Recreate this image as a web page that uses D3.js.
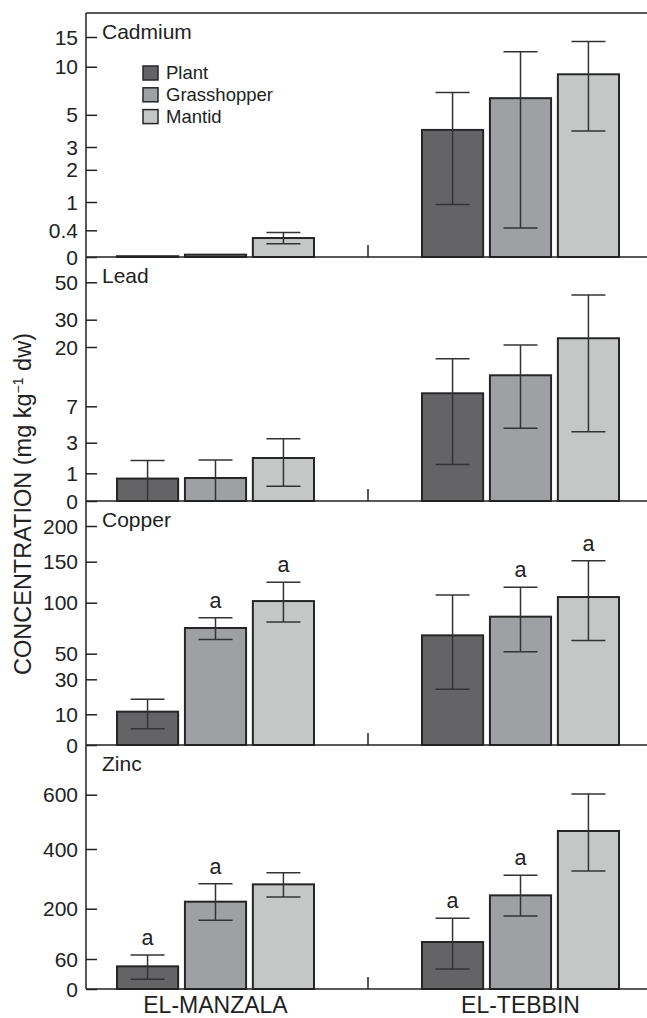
<!DOCTYPE html>
<html>
<head>
<meta charset="utf-8">
<script src="https://cdn.jsdelivr.net/npm/d3@7"></script>
<style>
  body { margin: 0; background: #fff; }
  text { font-family: "Liberation Sans", Arial, sans-serif; fill: #222; }
</style>
</head>
<body>
<div id="chart"></div>
<script>
const sites = ['EL-MANZALA', 'EL-TEBBIN'];
const organisms = ['Plant', 'Grasshopper', 'Mantid'];
const metals = ['Cadmium', 'Lead', 'Copper', 'Zinc'];

const cadmiumMean = [[0.01, 0.03, 0.27], [3.96, 6.4, 9.0]];
const cadmiumLow = [[null, null, 0.18], [0.94, 0.44, 3.9]];
const cadmiumHigh = [[null, null, 0.36], [6.94, 12.3, 14.1]];
const cadmiumLetters = [['', '', ''], ['', '', '']];

const leadMean = [[0.81, 0.83, 2.0], [9.85, 13.8, 23.2]];
const leadLow = [[0, 0, 0.53], [1.57, 4.58, 4.21]];
const leadHigh = [[1.83, 1.87, 3.44], [17.4, 20.7, 43.2]];
const leadLetters = [['', '', ''], ['', '', '']];

const copperMean = [[11.5, 75.2, 102], [68, 86.3, 106.9]];
const copperLow = [[5.3, 64, 81], [24.3, 52, 63]];
const copperHigh = [[18.6, 85.3, 124.8], [109.4, 118.7, 151.4]];
const copperLetters = [['', 'a', 'a'], ['', 'a', 'a']];

const zincMean = [[45.3, 223.5, 281.6], [107.3, 244.7, 466.3]];
const zincLow = [[19.3, 167.6, 239.1], [40, 179.6, 326.3]];
const zincHigh = [[71.1, 283.8, 320.7], [173.1, 311.7, 602.5]];
const zincLetters = [['a', 'a', ''], ['a', 'a', '']];

// tick labels of the (non-linear) y axes
const cadmiumTicks = [0, 0.4, 1, 2, 3, 5, 10, 15];
const leadTicks = [0, 1, 3, 7, 20, 30, 50];
const copperTicks = [0, 10, 30, 50, 100, 150, 200];
const zincTicks = [0, 60, 200, 400, 600];

const width = 647;
const height = 1018;
const axisX = 86;
const panelTop = 13;
const panelH = 244;
const groupCenters = [215.5, 520.5];

// the published axes are hand-spaced; heights (px above baseline) of each tick
const leadTickPx = [0, 27.7, 58.3, 94.7, 154, 181.3, 218.7];
const copperTickPx = [0, 30.7, 65.7, 91.3, 142.3, 183.3, 219];
const zincTickPx = [0, 30, 80.3, 140, 194.3];

const colors = d3.scaleOrdinal()
    .domain(organisms)
    .range(['#646466', '#9fa0a3', '#c5c7c6']);

const panels = [
    { name: metals[0], mean: cadmiumMean, low: cadmiumLow, high: cadmiumHigh, letters: cadmiumLetters, ticks: cadmiumTicks,
      y: d3.scaleSymlog().constant(1).domain([0, 15]).range([panelH, panelH - 220]) },
    { name: metals[1], mean: leadMean, low: leadLow, high: leadHigh, letters: leadLetters, ticks: leadTicks,
      y: d3.scaleLinear().domain(leadTicks).range(leadTickPx.map(d => panelH - d)) },
    { name: metals[2], mean: copperMean, low: copperLow, high: copperHigh, letters: copperLetters, ticks: copperTicks,
      y: d3.scaleLinear().domain(copperTicks).range(copperTickPx.map(d => panelH - d)) },
    { name: metals[3], mean: zincMean, low: zincLow, high: zincHigh, letters: zincLetters, ticks: zincTicks,
      y: d3.scaleLinear().domain(zincTicks).range(zincTickPx.map(d => panelH - d)) }
];

const xGroup = d3.scaleOrdinal()
    .domain(sites)
    .range(groupCenters);

const xInner = d3.scaleBand()
    .domain(organisms)
    .range([-98.5, 98.5])
    .paddingInner(0.1);

const svg = d3.select('#chart')
    .append('svg')
    .attr('width', width)
    .attr('height', height);

panels.forEach((p, i) => {
    const g = svg.append('g')
        .attr('transform', `translate(0,${panelTop + i * panelH})`);

    const rows = [];
    sites.forEach((s, si) => {
        organisms.forEach((o, oi) => {
            rows.push({
                site: s, org: o,
                val: p.mean[si][oi], lo: p.low[si][oi], hi: p.high[si][oi],
                letter: p.letters[si][oi],
                cx: xGroup(s) + xInner(o) + xInner.bandwidth() / 2
            });
        });
    });

    // y axis ticks
    const yAxis = d3.axisRight(p.y)
        .tickValues(p.ticks)
        .tickSize(11)
        .tickFormat('');
    const ax = g.append('g')
        .attr('transform', `translate(${axisX},0)`)
        .call(yAxis);
    ax.select('.domain').remove();
    ax.selectAll('line').attr('stroke', '#222').attr('stroke-width', 1.5);

    g.selectAll('.tick-label')
        .data(p.ticks)
        .enter()
        .append('text')
        .attr('x', 78)
        .attr('y', d => p.y(d))
        .attr('dy', '0.36em')
        .style('text-anchor', 'end')
        .style('font-size', '21px')
        .text(d => d);

    g.selectAll('.bar')
        .data(rows)
        .enter()
        .append('rect')
        .attr('x', d => d.cx - xInner.bandwidth() / 2)
        .attr('y', d => p.y(d.val))
        .attr('width', xInner.bandwidth())
        .attr('height', d => panelH - p.y(d.val))
        .attr('fill', d => colors(d.org))
        .attr('stroke', '#262626')
        .attr('stroke-width', 2);

    const eb = rows.filter(d => d.hi != null);
    g.selectAll('.err')
        .data(eb)
        .enter()
        .append('line')
        .attr('x1', d => d.cx)
        .attr('x2', d => d.cx)
        .attr('y1', d => p.y(Math.max(0, d.lo)))
        .attr('y2', d => p.y(d.hi))
        .attr('stroke', '#333')
        .attr('stroke-width', 1.5);

    g.selectAll('.cap-hi')
        .data(eb)
        .enter()
        .append('line')
        .attr('x1', d => d.cx - 17)
        .attr('x2', d => d.cx + 17)
        .attr('y1', d => p.y(d.hi))
        .attr('y2', d => p.y(d.hi))
        .attr('stroke', '#333')
        .attr('stroke-width', 1.5);

    g.selectAll('.cap-lo')
        .data(eb.filter(d => d.lo > 0))
        .enter()
        .append('line')
        .attr('x1', d => d.cx - 17)
        .attr('x2', d => d.cx + 17)
        .attr('y1', d => p.y(d.lo))
        .attr('y2', d => p.y(d.lo))
        .attr('stroke', '#333')
        .attr('stroke-width', 1.5);

    g.selectAll('.letter')
        .data(rows.filter(d => d.letter))
        .enter()
        .append('text')
        .attr('x', d => d.cx)
        .attr('y', d => p.y(d.hi) - 10)
        .style('text-anchor', 'middle')
        .style('font-size', '21.5px')
        .text(d => d.letter);

    // baseline and small separator tick between the sites
    g.append('line')
        .attr('x1', axisX).attr('x2', width)
        .attr('y1', panelH).attr('y2', panelH)
        .attr('stroke', '#222').attr('stroke-width', 1.5);
    g.append('line')
        .attr('x1', d3.mean(groupCenters)).attr('x2', d3.mean(groupCenters))
        .attr('y1', panelH).attr('y2', panelH - 12)
        .attr('stroke', '#222').attr('stroke-width', 1.5);

    g.append('text')
        .attr('x', 102)
        .attr('y', 25.5)
        .style('font-size', '21px')
        .text(p.name);
});

// frame: top line and y axis line
svg.append('line')
    .attr('x1', axisX).attr('x2', width)
    .attr('y1', panelTop).attr('y2', panelTop)
    .attr('stroke', '#222').attr('stroke-width', 1.5);
svg.append('line')
    .attr('x1', axisX).attr('x2', axisX)
    .attr('y1', panelTop).attr('y2', panelTop + 4 * panelH)
    .attr('stroke', '#222').attr('stroke-width', 1.5);

// legend
const legend = svg.append('g')
    .attr('transform', 'translate(143,66)');
legend.selectAll('rect')
    .data(organisms)
    .enter()
    .append('rect')
    .attr('x', 0)
    .attr('y', (d, i) => i * 21.8)
    .attr('width', 15)
    .attr('height', 14)
    .attr('fill', d => colors(d))
    .attr('stroke', '#262626')
    .attr('stroke-width', 1.5);
legend.selectAll('text')
    .data(organisms)
    .enter()
    .append('text')
    .attr('x', 23)
    .attr('y', (d, i) => i * 21.8 + 13)
    .style('font-size', '18.5px')
    .text(d => d);

// x labels
svg.selectAll('.site')
    .data(sites)
    .enter()
    .append('text')
    .attr('x', d => xGroup(d))
    .attr('y', 1013)
    .style('text-anchor', 'middle')
    .style('font-size', '23px')
    .text(d => d);

// y title
const yt = svg.append('text')
    .attr('transform', 'translate(31,504) rotate(-90)')
    .style('text-anchor', 'middle')
    .style('font-size', '23.5px');
yt.append('tspan').text('CONCENTRATION (mg kg');
yt.append('tspan').attr('dy', -8).style('font-size', '14px').text('\u22121');
yt.append('tspan').attr('dy', 8).text(' dw)');
</script>
</body>
</html>
